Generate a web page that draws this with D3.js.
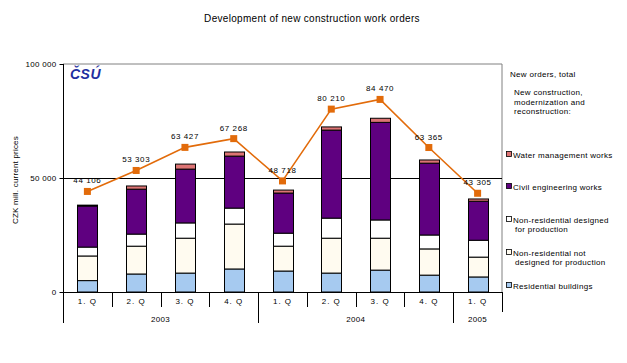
<!DOCTYPE html>
<html>
<head>
<meta charset="utf-8">
<script src="https://cdn.jsdelivr.net/npm/d3@7"></script>
<style>
  body { margin: 0; background: #fff; }
  svg { display: block; font-family: "Liberation Sans", Arial, sans-serif; }
</style>
</head>
<body>
<svg id="chart" width="627" height="363"></svg>
<script>
const quarters = ["1. Q","2. Q","3. Q","4. Q","1. Q","2. Q","3. Q","4. Q","1. Q"];
const years = ["2003","2004","2005"];
const yearSpans = [4, 4, 1];
const residential = [5000, 7900, 8300, 10100, 9200, 8300, 9600, 7400, 6600];
const nonResNotProd = [10800, 12200, 15300, 19700, 10900, 15300, 14000, 11500, 8700];
const nonResProd = [3900, 5300, 6700, 7000, 5700, 8800, 8000, 6100, 7400];
const civilEng = [18000, 19700, 23600, 22800, 17600, 38600, 42800, 31500, 17100];
const waterMgmt = [400, 1400, 2200, 1800, 1300, 1400, 1800, 1400, 1000];
const totalOrders = [44106, 53303, 63427, 67268, 48718, 80210, 84470, 63365, 43305];
const yTicks = [0, 50000, 100000];

const seriesKeys = ["residential","nonResNotProd","nonResProd","civilEng","waterMgmt"];
const seriesColors = {
  residential: "#A6CAF0",
  nonResNotProd: "#FFFBF0",
  nonResProd: "#FFFFFF",
  civilEng: "#5F0080",
  waterMgmt: "#DD7474"
};
const legendItems = [
  { key: "waterMgmt", lines: ["Water management works"], y: 155 },
  { key: "civilEng", lines: ["Civil engineering works"], y: 187 },
  { key: "nonResProd", lines: ["Non-residential designed", "for production"], y: 220 },
  { key: "nonResNotProd", lines: ["Non-residential not", "designed for production"], y: 253 },
  { key: "residential", lines: ["Residential buildings"], y: 286 }
];

const rows = quarters.map((q, i) => ({
  i, residential: residential[i], nonResNotProd: nonResNotProd[i],
  nonResProd: nonResProd[i], civilEng: civilEng[i], waterMgmt: waterMgmt[i]
}));

const svg = d3.select("#chart");
const L = 63, R = 502, T = 64, B = 292;

const x = d3.scaleBand().domain(d3.range(quarters.length)).range([L, R]).padding(0);
const y = d3.scaleLinear().domain([0, 100000]).range([B, T]);
const bw = x.bandwidth();
const barW = 20;

// title
svg.append("text").attr("x", 312).attr("y", 22).attr("text-anchor", "middle")
  .attr("font-size", 10).attr("letter-spacing", 0.3).text("Development of new construction work orders");

// plot border (gray top & right)
svg.append("line").attr("x1", L).attr("x2", R).attr("y1", T).attr("y2", T).attr("stroke", "#808080");
svg.append("line").attr("x1", R).attr("x2", R).attr("y1", T).attr("y2", B).attr("stroke", "#808080");

// gridline at 50000
svg.append("line").attr("x1", L).attr("x2", R).attr("y1", Math.round(y(50000)) + 0.5).attr("y2", Math.round(y(50000)) + 0.5)
  .attr("stroke", "#000");

// y axis
const yAxis = d3.axisLeft(y).tickValues(yTicks).tickSize(4).tickPadding(3)
  .tickFormat(d => d3.format(",")(d).replace(/,/g, " "));
const yg = svg.append("g").attr("transform", `translate(${L + 0.5},0)`).call(yAxis);
yg.select(".domain").remove();
yg.selectAll("text").attr("font-size", 8).attr("letter-spacing", 0.3).attr("font-family", "Liberation Sans, Arial, sans-serif");
svg.append("line").attr("x1", L + 0.5).attr("x2", L + 0.5).attr("y1", T).attr("y2", 323).attr("stroke", "#000");

// y title
svg.append("text").attr("transform", "translate(18,180) rotate(-90)").attr("text-anchor", "middle")
  .attr("font-size", 8).attr("letter-spacing", 0.2).text("CZK mill. current prices");

// logo
svg.append("text").attr("x", 70).attr("y", 79).attr("font-size", 14).attr("font-weight", "bold")
  .attr("font-style", "italic").attr("fill", "#1F2FA0").attr("letter-spacing", 0.5).text("ČSÚ");

// bars
const stack = d3.stack().keys(seriesKeys)(rows);
svg.append("g").selectAll("g").data(stack).join("g")
  .attr("fill", d => seriesColors[d.key])
  .selectAll("rect").data(d => d).join("rect")
  .attr("x", d => Math.round(x(d.data.i) + bw / 2 - barW / 2) + 0.5)
  .attr("y", d => y(d[1]))
  .attr("width", barW)
  .attr("height", d => y(d[0]) - y(d[1]))
  .attr("stroke", "#000").attr("stroke-width", 1);

// bottom axis line
svg.append("line").attr("x1", L).attr("x2", R).attr("y1", B + 0.5).attr("y2", B + 0.5).attr("stroke", "#000");

// quarter ticks & labels
for (let i = 1; i < quarters.length; i++) {
  const xx = Math.round(x(i)) + 0.5;
  svg.append("line").attr("x1", xx).attr("x2", xx).attr("y1", B).attr("y2", 307).attr("stroke", "#000");
}
svg.append("g").selectAll("text").data(quarters).join("text")
  .attr("x", (d, i) => x(i) + bw / 2).attr("y", 304).attr("text-anchor", "middle")
  .attr("font-size", 8).attr("letter-spacing", 1).text(d => d);

// year separators & labels
let start = 0;
years.forEach((yr, k) => {
  const end = start + yearSpans[k];
  const x0 = x(start), x1 = end < quarters.length ? x(end) : R;
  if (end < quarters.length) {
    svg.append("line").attr("x1", Math.round(x1) + 0.5).attr("x2", Math.round(x1) + 0.5)
      .attr("y1", B).attr("y2", 323).attr("stroke", "#000");
  } else {
    svg.append("line").attr("x1", R + 0.5).attr("x2", R + 0.5).attr("y1", B).attr("y2", 312).attr("stroke", "#000");
  }
  svg.append("text").attr("x", (x0 + x1) / 2).attr("y", 322).attr("text-anchor", "middle")
    .attr("font-size", 8).attr("letter-spacing", 0.3).text(yr);
  start = end;
});

// total line
const lineGen = d3.line().x((d, i) => x(i) + bw / 2).y(d => y(d));
svg.append("path").datum(totalOrders).attr("d", lineGen).attr("fill", "none")
  .attr("stroke", "#E26B0A").attr("stroke-width", 1.6);
svg.append("g").selectAll("rect").data(totalOrders).join("rect")
  .attr("x", (d, i) => x(i) + bw / 2 - 3.5).attr("y", d => y(d) - 3.5)
  .attr("width", 7).attr("height", 7).attr("fill", "#E26B0A");
svg.append("g").selectAll("text").data(totalOrders).join("text")
  .attr("x", (d, i) => x(i) + bw / 2).attr("y", d => y(d) - 8).attr("text-anchor", "middle")
  .attr("font-size", 8).attr("letter-spacing", 0.6)
  .text(d => d3.format(",")(d).replace(/,/g, " "));

// legend header
svg.append("text").attr("x", 510).attr("y", 77).attr("font-size", 8).attr("letter-spacing", 0.3).text("New orders, total");
["New construction,", "modernization and", "reconstruction:"].forEach((t, i) => {
  svg.append("text").attr("x", 514).attr("y", 95 + i * 9.5).attr("font-size", 8).attr("letter-spacing", 0.3).text(t);
});

// legend items
legendItems.forEach(it => {
  svg.append("rect").attr("x", 506.5).attr("y", it.y - 3.5).attr("width", 5).attr("height", 5)
    .attr("fill", seriesColors[it.key]).attr("stroke", "#000").attr("stroke-width", 0.8);
  it.lines.forEach((t, j) => {
    svg.append("text").attr("x", j === 0 ? 513 : 515).attr("y", it.y + 2.5 + j * 9.5)
      .attr("font-size", 8).attr("letter-spacing", 0.3).text(t);
  });
});
</script>
</body>
</html>
